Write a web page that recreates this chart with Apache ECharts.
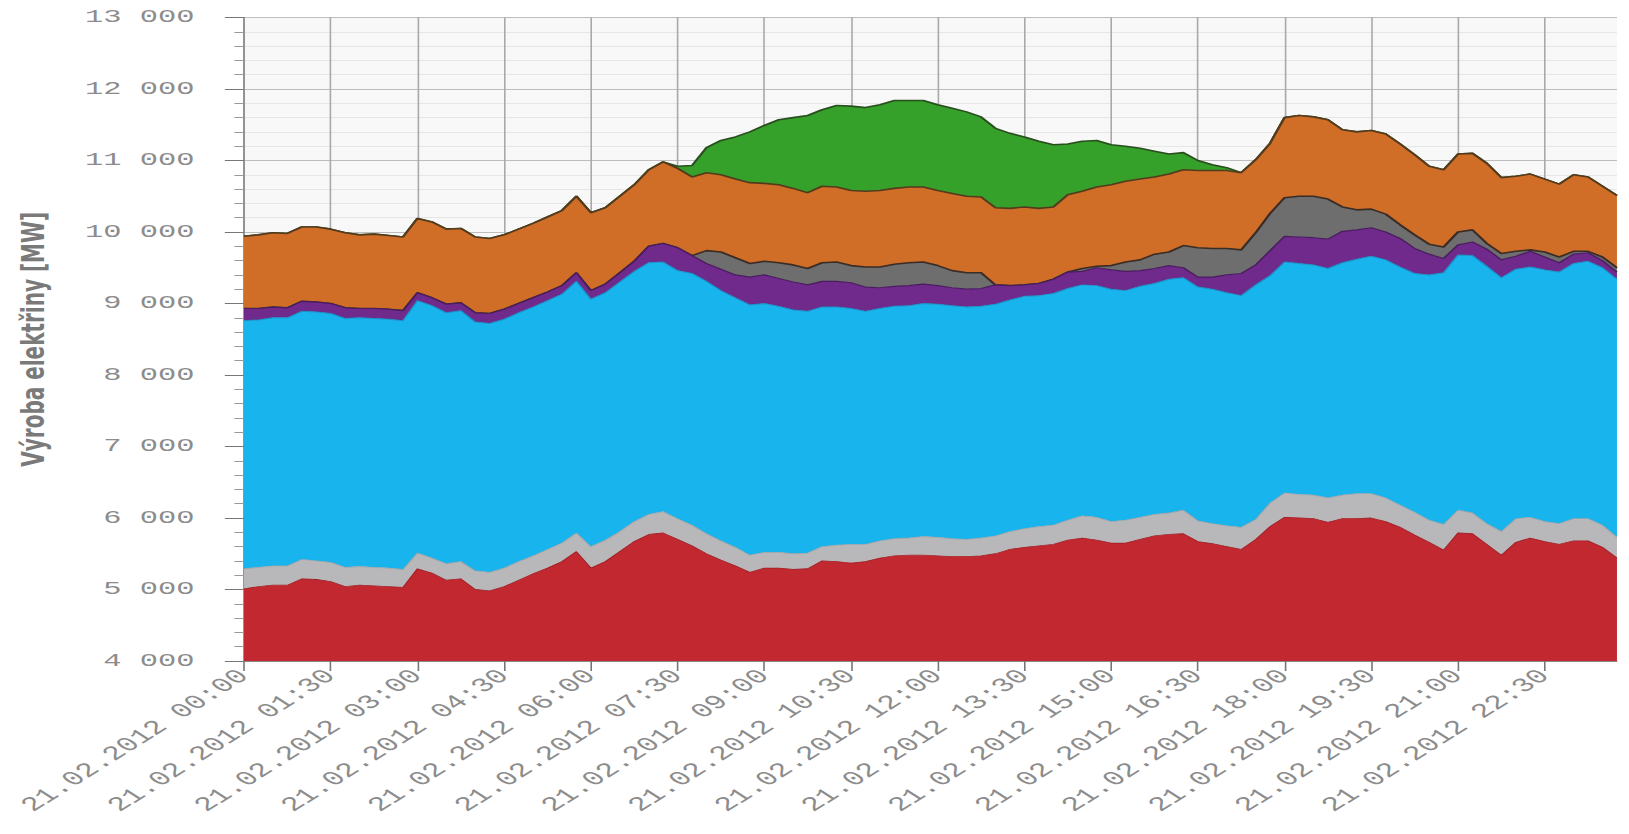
<!DOCTYPE html>
<html>
<head>
<meta charset="utf-8">
<script src="https://cdn.jsdelivr.net/npm/echarts@6/dist/echarts.min.js"></script>
<style>
  html, body { margin: 0; padding: 0; background: #fff; overflow: hidden; }
  /* the source picture is stretched sideways, so the chart is drawn narrow and widened */
  #main { width: 1018px; height: 834px; transform: scaleX(1.6); transform-origin: 0 0; }
</style>
</head>
<body>
<div id="main"></div>
<script>
// 15 minute steps over 21.02.2012
const times = []
for (let h = 0; h < 24; h++) {
    for (const m of ['00', '15', '30', '45']) {
        times.push('21.02.2012 ' + String(h).padStart(2, '0') + ':' + m)
    }
}

const red = [5010,5040,5060,5060,5150,5140,5110,5040,5060,5050,
    5040,5030,5290,5230,5130,5150,5000,4980,5040,5130,
    5220,5300,5390,5530,5300,5390,5530,5670,5770,5790,
    5700,5610,5500,5410,5330,5240,5300,5300,5280,5290,
    5400,5390,5370,5390,5440,5470,5480,5480,5470,5460,
    5460,5470,5500,5560,5590,5610,5630,5690,5720,5690,
    5650,5650,5700,5750,5770,5780,5670,5640,5600,5560,
    5700,5880,6010,6000,5990,5940,5990,5990,6000,5950,
    5870,5760,5660,5550,5790,5780,5630,5480,5660,5720,
    5670,5630,5680,5680,5590,5440]

const lightGray = [280,270,270,270,270,260,270,270,260,260,
    260,250,220,210,230,240,260,260,260,260,
    250,260,260,260,300,300,280,280,280,300,
    290,290,280,270,260,240,220,220,220,220,
    200,230,260,240,240,240,240,260,260,250,
    240,250,250,250,260,270,270,280,310,320,
    300,320,310,300,300,330,290,280,290,310,
    280,330,340,330,330,340,330,350,340,330,
    310,320,310,360,320,290,290,330,330,290,
    280,290,310,310,310,290]

const blue = [3470,3460,3470,3470,3470,3480,3480,3480,3480,3480,
    3480,3480,3530,3530,3510,3510,3480,3480,3480,3480,
    3480,3480,3480,3520,3460,3460,3490,3500,3520,3490,
    3470,3520,3530,3500,3490,3500,3480,3440,3410,3380,
    3350,3330,3300,3260,3250,3250,3250,3260,3260,3260,
    3250,3240,3240,3240,3250,3230,3240,3240,3230,3240,
    3250,3210,3230,3230,3270,3250,3270,3280,3260,3240,
    3280,3180,3230,3230,3220,3210,3250,3280,3320,3330,
    3330,3340,3430,3520,3570,3600,3600,3550,3490,3500,
    3520,3520,3570,3600,3600,3610]

const purple = [170,160,150,140,140,140,140,150,130,140,
    140,140,110,110,120,110,130,140,140,130,
    130,120,120,120,120,120,130,140,230,260,
    320,250,250,300,320,390,400,390,390,370,
    360,360,360,340,290,280,280,270,260,250,
    250,250,270,200,160,170,200,230,190,250,
    270,270,220,210,190,140,140,170,250,310,
    280,350,360,370,380,410,440,410,400,390,
    400,350,290,200,140,190,240,250,180,220,
    180,130,130,120,100,100]

const darkGray = [0,0,0,0,0,0,0,0,0,0,
    0,0,0,0,0,0,0,0,0,0,
    0,0,0,0,0,0,0,0,0,0,
    0,0,180,240,240,190,190,220,240,230,
    260,270,240,280,290,310,320,310,280,240,
    230,220,0,0,0,0,0,0,40,20,
    60,130,150,200,190,310,410,400,370,330,
    450,520,540,570,580,560,340,280,260,250,
    190,190,140,160,180,170,80,90,70,20,
    70,80,40,20,50,60]

const orange = [1010,1030,1040,1040,1040,1050,1040,1050,1030,1040,
    1030,1030,1040,1060,1050,1040,1060,1050,1040,1040,
    1040,1050,1050,1070,1090,1070,1070,1070,1070,1140,
    1110,1100,1090,1080,1100,1130,1090,1090,1070,1060,
    1070,1050,1050,1060,1070,1060,1060,1050,1050,1080,
    1070,1060,1080,1080,1090,1050,1010,1080,1080,1110,
    1130,1130,1130,1080,1090,1060,1080,1090,1090,1080,
    1020,980,1120,1130,1110,1110,1080,1090,1100,1120,
    1130,1120,1090,1080,1090,1070,1120,1060,1050,1060,
    1020,1020,1070,1040,990,1010]

const green = [0,0,0,0,0,0,0,0,0,0,
    0,0,0,0,0,0,0,0,0,0,
    0,0,0,0,0,0,0,0,0,0,
    30,160,350,480,590,710,810,910,990,1080,
    1070,1140,1180,1170,1200,1230,1210,1210,1200,1190,
    1180,1120,1110,1050,980,940,870,710,700,650,
    560,490,430,360,280,240,140,80,40,0,
    0,0,0,0,0,0,0,0,0,0,
    0,0,0,0,0,0,0,0,0,0,
    0,0,0,0,0,0]

const layers = [
    { data: red, fill: '#c1282f', line: '#a11f26', width: 0.8 },
    { data: lightGray, fill: '#b8b8ba', line: '#9aa3a8', width: 0.8 },
    { data: blue, fill: '#18b4ee', line: '#1890c4', width: 1 },
    { data: purple, fill: '#6f2a8c', line: '#4a1c60', width: 1.2 },
    { data: darkGray, fill: '#6e6e6e', line: '#3a2c26', width: 1.6 },
    { data: orange, fill: '#d06e28', line: '#553a1c', width: 1.6 },
    { data: green, fill: '#35a12a', line: '#2a4f1e', width: 1.6 }
]

const fmt = v => String(v).replace(/\B(?=(\d{3})+(?!\d))/g, ' ')

const chart = echarts.init(document.getElementById('main'), null, { renderer: 'svg' })
chart.setOption({
    animation: false,
    backgroundColor: '#ffffff',
    grid: {
        left: 152.5,
        right: 7.4,
        top: 17.5,
        bottom: 173,
        show: true,
        backgroundColor: '#f8f8f8',
        borderWidth: 0
    },
    xAxis: {
        type: 'category',
        boundaryGap: false,
        data: times,
        axisLine: { lineStyle: { color: '#8a8a8a' } },
        axisTick: { interval: 5, length: 10, lineStyle: { color: '#777' } },
        axisLabel: {
            interval: 5,
            rotate: 45,
            margin: 12,
            fontFamily: 'Liberation Mono',
            fontSize: 20,
            color: '#8c8c8c'
        },
        splitLine: { show: true, interval: 5, lineStyle: { color: '#a9a9a9' } }
    },
    yAxis: {
        type: 'value',
        min: 4000,
        max: 13000,
        interval: 1000,
        name: 'Výroba elektřiny [MW]',
        nameLocation: 'middle',
        nameGap: 122,
        nameTextStyle: {
            fontFamily: 'DejaVu Sans',
            fontWeight: 'bold',
            fontSize: 20,
            color: '#7a7a7a'
        },
        axisLine: { show: true, lineStyle: { color: '#8a8a8a' } },
        axisTick: { show: true, length: 12, lineStyle: { color: '#777' } },
        minorTick: { show: true, splitNumber: 5, length: 6, lineStyle: { color: '#999' } },
        axisLabel: {
            margin: 31,
            formatter: fmt,
            fontFamily: 'Liberation Mono',
            fontSize: 19,
            color: '#8c8c8c'
        },
        splitLine: { lineStyle: { color: '#bdbdbd' } },
        minorSplitLine: { show: true, lineStyle: { color: '#e6e6e6' } }
    },
    series: layers.map((l, i) => ({
        type: 'line',
        stack: 'total',
        data: l.data,
        symbol: 'none',
        z: 10 - i,
        lineStyle: { color: l.line, width: l.width },
        areaStyle: { color: l.fill, opacity: 1 }
    }))
})
</script>
</body>
</html>
